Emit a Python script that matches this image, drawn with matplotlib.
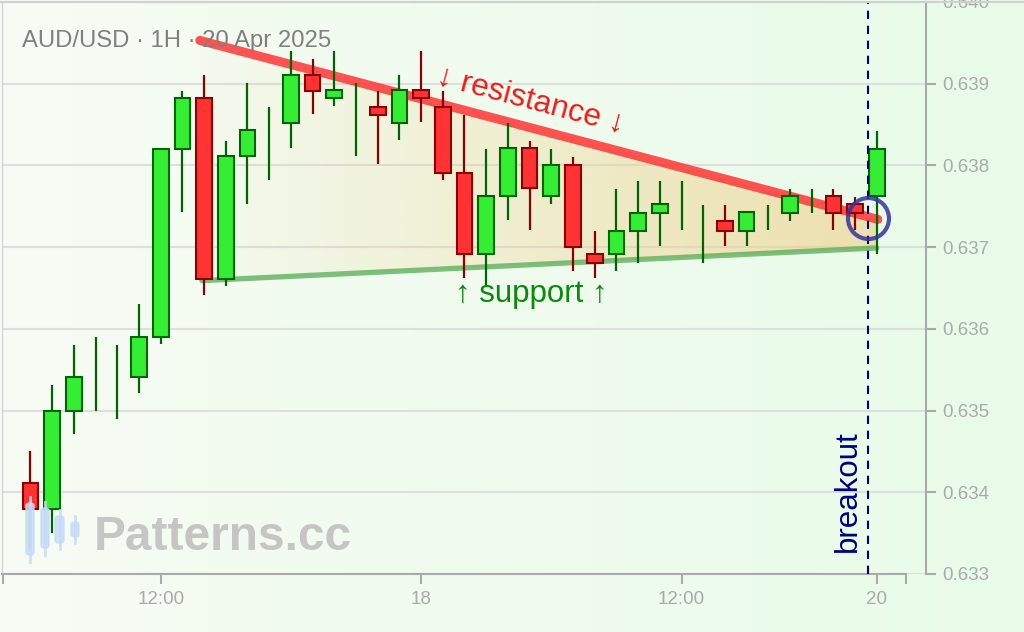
import numpy as np
import matplotlib.pyplot as plt
from matplotlib.patches import Polygon, FancyBboxPatch
from matplotlib.lines import Line2D
from matplotlib.colors import LinearSegmentedColormap, to_rgb

plt.rcParams['font.family'] = ['Liberation Sans', 'DejaVu Sans']

# AUD/USD 1H candles, 17 Apr 06:00 -> 20 Apr 21:00 (weekend skipped)
opens = [0.63411, 0.63379, 0.63499, 0.63550, 0.63540, 0.63541, 0.63590, 0.63820,
         0.63882, 0.63661, 0.63811, 0.63830, 0.63852, 0.63911, 0.63882, 0.63860,
         0.63872, 0.63852, 0.63892, 0.63872, 0.63791, 0.63691, 0.63762, 0.63821,
         0.63762, 0.63801, 0.63691, 0.63691, 0.63720, 0.63742, 0.63750, 0.63720,
         0.63732, 0.63720, 0.63740, 0.63742, 0.63760, 0.63762, 0.63753, 0.63762]
highs = [0.63450, 0.63531, 0.63580, 0.63590, 0.63580, 0.63631, 0.63820, 0.63891,
         0.63911, 0.63830, 0.63901, 0.63871, 0.63940, 0.63930, 0.63940, 0.63901,
         0.63891, 0.63911, 0.63940, 0.63891, 0.63862, 0.63820, 0.63852, 0.63830,
         0.63820, 0.63810, 0.63720, 0.63771, 0.63781, 0.63781, 0.63781, 0.63752,
         0.63752, 0.63743, 0.63752, 0.63771, 0.63771, 0.63771, 0.63761, 0.63842]
lows = [0.63331, 0.63350, 0.63471, 0.63500, 0.63490, 0.63522, 0.63581, 0.63743,
        0.63642, 0.63652, 0.63753, 0.63782, 0.63821, 0.63863, 0.63873, 0.63811,
        0.63802, 0.63831, 0.63853, 0.63782, 0.63662, 0.63652, 0.63733, 0.63721,
        0.63753, 0.63671, 0.63662, 0.63671, 0.63681, 0.63701, 0.63721, 0.63681,
        0.63701, 0.63701, 0.63721, 0.63732, 0.63742, 0.63721, 0.63721, 0.63692]
closes = [0.63379, 0.63500, 0.63541, 0.63550, 0.63540, 0.63590, 0.63820, 0.63882,
          0.63661, 0.63811, 0.63843, 0.63830, 0.63911, 0.63891, 0.63892, 0.63860,
          0.63862, 0.63892, 0.63882, 0.63791, 0.63691, 0.63762, 0.63821, 0.63772,
          0.63801, 0.63700, 0.63681, 0.63720, 0.63742, 0.63753, 0.63750, 0.63720,
          0.63720, 0.63743, 0.63740, 0.63762, 0.63760, 0.63742, 0.63742, 0.63820]

tick_pos = [-1.28, 6, 18, 30, 39, 40.35]
tick_labels = ['', '12:00', '18', '12:00', '20', '']
y_ticks = [0.633, 0.634, 0.635, 0.636, 0.637, 0.638, 0.639, 0.640]

res_x = [7.8, 39.05]
res_y = [0.63953, 0.63734]
sup_x = [7.9, 39.0]
sup_y = [0.63659, 0.63699]
breakout_x = 38.6
circle_x, circle_y = 38.6, 0.63736

W, H = 1024, 632
fig = plt.figure(figsize=(W / 100, H / 100), dpi=100)

# background gradient
bg = fig.add_axes([0, 0, 1, 1], zorder=-10)
cmap_bg = LinearSegmentedColormap.from_list('bg', ['#f7fcf4', '#e8fbe8'])
bg.imshow(np.linspace(0, 1, 256)[None, :], aspect='auto', cmap=cmap_bg, extent=[0, 1, 0, 1])
bg.axis('off')

ax = fig.add_axes([2 / W, 58 / H, 924 / W, 572 / H])
ax.patch.set_alpha(0)

# triangle fill
rgba = np.zeros((1, 256, 4))
rgba[..., :3] = to_rgb('#f0cf88')
rgba[..., 3] = np.linspace(0.03, 0.62, 256)
im = ax.imshow(rgba, extent=[res_x[0], res_x[1], sup_y[0], res_y[0]], aspect='auto',
               interpolation='bilinear', zorder=1)
tri = Polygon([(res_x[0], res_y[0]), (res_x[1], res_y[1]), (sup_x[1], sup_y[1]), (sup_x[0], sup_y[0])],
              closed=True, facecolor='none', edgecolor='none', transform=ax.transData)
ax.add_patch(tri)
im.set_clip_path(tri)

ax.plot(res_x, res_y, color='#ff3636', alpha=0.85, lw=6.5, solid_capstyle='round', zorder=2)
ax.plot(sup_x, sup_y, color='#4fa84f', alpha=0.72, lw=3.8, solid_capstyle='round', zorder=2)

# candles
idx = np.arange(len(opens))
o = np.array(opens); c = np.array(closes)
up = c >= o
wick_col = np.where(up, '#006400', '#8b0000')
ax.vlines(idx, lows, highs, colors=wick_col, lw=1.6, zorder=3)
body = o != c
ax.bar(idx[body & up], (c - o)[body & up], bottom=o[body & up], width=0.72,
       color='#33ee33', edgecolor='#006400', lw=1.5, zorder=4)
ax.bar(idx[body & ~up], (o - c)[body & ~up], bottom=c[body & ~up], width=0.72,
       color='#ff3333', edgecolor='#8b0000', lw=1.5, zorder=4)

ax.axvline(breakout_x, color='#000080', lw=1.5, linestyle=(0, (4, 3.2)), zorder=5)
ax.plot(circle_x, circle_y, 'o', ms=29.5, mfc='none', mec='#33339a', mew=3, alpha=0.85, zorder=7)

ax.text(23.07, 0.63880, '↓ resistance ↓', rotation=-14.8, rotation_mode='anchor',
        ha='center', va='center', fontsize=22.8, color='#ee1c1c', zorder=8)
ax.text(23.06, 0.636426, '↑ support ↑', ha='center', va='center', fontsize=22.5,
        color='#0a8a0a', zorder=8)
ax.text(38.36, 0.633265, 'breakout', rotation=90, ha='right', va='bottom',
        fontsize=22.5, color='#000080', zorder=8)

ax.set_xlim(-1.313, 41.267)
ax.set_ylim(0.633, 0.640)
ax.set_xticks(tick_pos)
ax.set_xticklabels(tick_labels)
ax.yaxis.tick_right()
ax.set_yticks(y_ticks)
ax.set_yticklabels(['%.3f' % v for v in y_ticks])
ax.tick_params(colors='#aaaaaa', labelcolor='#aaaaaa', length=7, width=1.5, labelsize=13.5, pad=5)
ax.grid(axis='y', color='#dedede', lw=1.5)
ax.set_axisbelow(True)
ax.spines['top'].set_visible(False)
ax.spines['left'].set_color('#d5d5d5')
ax.spines['left'].set_linewidth(1)
ax.spines['right'].set_color('#aaaaaa')
ax.spines['right'].set_linewidth(1.5)
ax.spines['bottom'].set_color('#aaaaaa')
ax.spines['bottom'].set_linewidth(1.5)
ax.spines['bottom'].set_bounds(-1.313, 40.35)

fig.add_artist(Line2D([0, 1], [1 - 1.5 / H] * 2, color='#d0d0d0', lw=1.5))

# title and watermark
fig.text(22 / W, 1 - 41 / H, 'AUD/USD · 1H · 20 Apr 2025', fontsize=17.2, color='#7f7f7f',
         ha='left', va='center')
fig.text(94 / W, 1 - 550 / H, 'Patterns.cc', fontsize=34.5, fontweight='bold', color='#bdbdbd',
         alpha=0.85, ha='left', va='baseline')
icon = [(26, 34, 503, 555, 562), (41, 49, 508, 548, 555), (55, 64, 516, 543, 549), (71, 79, 522, 537, 543)]
for x0, x1, y0, y1, yl in icon:
    xm = (x0 + x1) / 2
    fig.add_artist(Line2D([xm / W] * 2, [1 - (y0 - 6) / H, 1 - yl / H], color='#c5dcf7', lw=2, alpha=0.85))
    fig.add_artist(FancyBboxPatch((x0 / W, 1 - y1 / H), (x1 - x0) / W, (y1 - y0) / H,
                                  boxstyle='round,pad=0,rounding_size=0.004', color='#c5dcf7',
                                  alpha=0.85, transform=fig.transFigure))

fig.savefig('out.png', dpi=100)
